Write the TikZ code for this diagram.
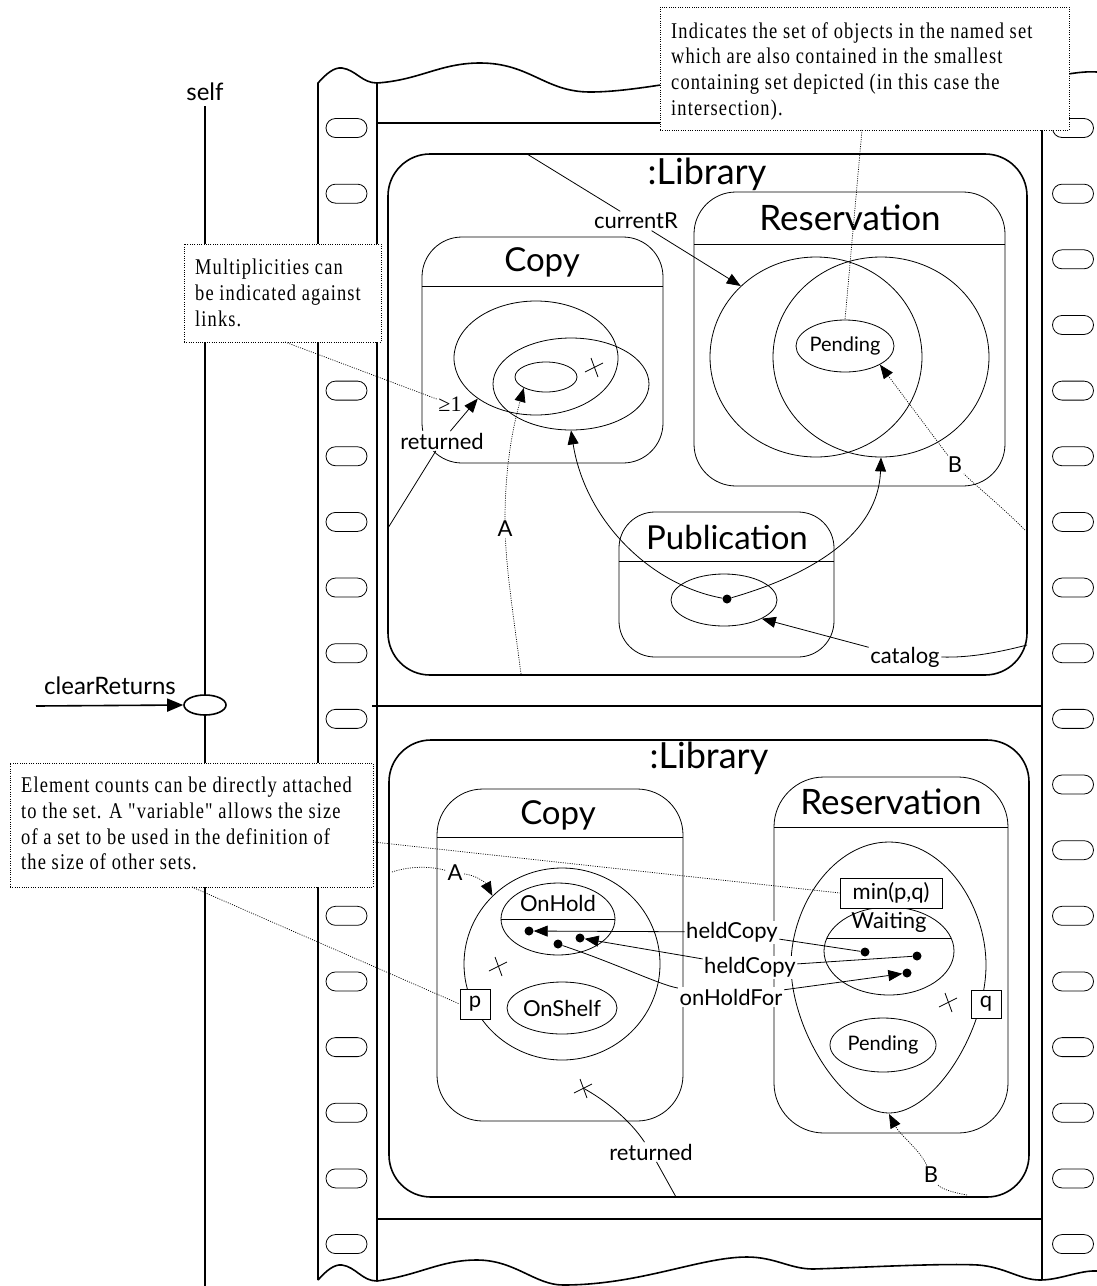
\documentclass[tikz,border=0pt]{standalone}
\usepackage{fontspec}
\usetikzlibrary{shapes.geometric,arrows.meta}
\newfontfamily\lblfont{Lato}
\newfontfamily\notefont[FakeStretch=0.82,LetterSpace=5]{Liberation Serif}
\newfontfamily\serfont{Liberation Serif}
\tikzset{xm/.pic={\draw[line width=0.8pt] (-9,5) -- (9,-4) (-3,-9) -- (4,10);}}
\begin{document}
\begin{tikzpicture}[x=1pt,y=-1pt,
  thk/.style={line width=1.6pt},
  thn/.style={line width=0.8pt},
  lib/.style={draw, line width=1.6pt, rounded corners=42pt, inner sep=0},
  setbox/.style={draw, line width=0.8pt, inner sep=0},
  ell/.style={draw, ellipse, line width=0.8pt, inner sep=0},
  lbl/.style={font=\lblfont\fontsize{22}{22}\selectfont, inner sep=1.5pt, fill=white},
  lbln/.style={font=\lblfont\fontsize{22}{22}\selectfont, inner sep=1pt},
  lblsm/.style={font=\lblfont\fontsize{20}{20}\selectfont, inner sep=1pt},
  ttl/.style={font=\lblfont\fontsize{33}{33}\selectfont, inner sep=0},
  arr/.style={line width=0.8pt, -{Triangle[length=14pt,width=11pt]}},
  dts/.style={line width=0.7pt, dash pattern=on 1pt off 1.3pt},
  darr/.style={dts, -{Triangle[length=14pt,width=11pt]}},
  notebox/.style={draw, dts, fill=white, inner sep=0},
  notetxt/.style={font=\notefont\fontsize{22.5}{25.7}\selectfont, align=left, inner sep=0, anchor=north west},
  dotn/.style={circle, fill, inner sep=0, minimum size=9pt},
  hole/.style={draw, line width=0.8pt, rounded corners=9.5pt, minimum width=41pt, minimum height=19pt, inner sep=0},
  smallbox/.style={draw, line width=0.8pt, fill=white, inner sep=0, font=\lblfont\fontsize{22}{22}\selectfont},
]
\fill[white] (0,0) rectangle (1097,1286);
\useasboundingbox (0,0) rectangle (1097,1286);

% ---------------- film strip ----------------
\draw[thk] (318,1280) -- (318,83) .. controls (326,74) and (334,67) .. (342,68) .. controls (356,70) and (362,83) .. (377,83);
\draw[thk] (318,1280) .. controls (326,1271) and (334,1264) .. (342,1265) .. controls (356,1267) and (362,1281) .. (377,1281);
\draw[thk] (377,83) -- (377,1281);
\draw[thk] (1042,80) -- (1042,1280);
\draw[thk] (377,83) .. controls (420,80) and (440,63) .. (480,63) .. controls (530,63) and (545,92) .. (590,92) .. controls (640,92) and (700,75) .. (760,74) .. controls (850,74) and (950,88) .. (1000,86) .. controls (1030,84) and (1070,70) .. (1097,72);
\draw[thk] (377,1281) .. controls (420,1275) and (440,1260) .. (477,1260) .. controls (515,1260) and (535,1285) .. (563,1285) .. controls (640,1285) and (700,1257) .. (747,1257) .. controls (775,1257) and (790,1269) .. (813,1269) .. controls (850,1268) and (940,1263) .. (978,1265) .. controls (1005,1267) and (1020,1280) .. (1040,1280) .. controls (1060,1280) and (1080,1270) .. (1097,1271);
\draw[thk] (377,123) -- (1042,123);
\draw[thk] (372,706) -- (1042,706);
\draw[thk] (377,1219) -- (1042,1219);
\foreach \k in {0,...,17} {
  \node[hole] (hl\k) at (346.5,128+65.65*\k) {};
  \node[hole] (hr\k) at (1073,128+65.65*\k) {};
}

% ---------------- lifeline ----------------
\node[lbln, font=\lblfont\fontsize{24}{24}\selectfont] (self) at (205,92) {self};
\node[draw, ellipse, thk, minimum width=42pt, minimum height=20pt, inner sep=0] (ev) at (205,705) {};
\coordinate (lt) at (205,106);
\coordinate (lb) at (205,1286);
\draw[thk] (lt) -- (ev.north);
\draw[thk] (ev.south) -- (lb);
\coordinate (evs) at (36,706);
\draw[thk, -{Triangle[length=16pt,width=13pt]}] (evs) -- (ev.west);
\node[lbln, font=\lblfont\fontsize{24}{24}\selectfont] (clr) at (110,686) {clearReturns};

% ---------------- callouts ----------------
\node[notebox, minimum width=409pt, minimum height=123pt] (n1) at (864.5,68.5) {};
\node[notetxt] (n1t) at (671,22) {Indicates the set of objects in the named set\\which are also contained in the smallest\\containing set depicted (in this case the\\intersection).};
\node[notebox, minimum width=197pt, minimum height=98pt] (n2) at (282.5,293) {};
\node[notetxt] (n2t) at (195,259) {Multiplicities can\\be indicated against\\links.};
\node[notebox, minimum width=363pt, minimum height=124pt] (n3) at (191.5,825) {};
\node[notetxt] (n3t) at (21,777) {Element counts can be directly attached\\to the set. A "variable" allows the size\\of a set to be used in the definition of\\the size of other sets.};

% ---------------- top frame ----------------
\node[lib, minimum width=639pt, minimum height=521pt] (lib1) at (707.5,414.5) {};
\node[ttl, font=\lblfont\fontsize{36}{36}\selectfont] (lib1t) at (707,174) {:Library};

\node[setbox, rounded corners=40pt, minimum width=241pt, minimum height=226pt] (cp1) at (542.5,350) {};
\draw[thn] (422,286) -- (663,286);
\node[ttl] (cp1t) at (542,262) {Copy};
\node[ell, minimum width=164pt, minimum height=114pt] (c1a) at (536,358) {};
\node[ell, minimum width=156pt, minimum height=92pt] (c1b) at (571,384) {};
\node[ell, minimum width=62pt, minimum height=30pt] (c1c) at (546,377) {};
\pic at (594,367) {xm};

\node[setbox, rounded corners=42pt, minimum width=311pt, minimum height=294pt] (rs1) at (849.5,339) {};
\draw[thn] (694,244) -- (1005,244);
\node[ttl, font=\lblfont\fontsize{35}{35}\selectfont] (rs1t) at (850,218) {Reservation};
\node[ell, minimum width=212pt, minimum height=200pt] (r1a) at (816,357) {};
\node[ell, minimum width=216pt, minimum height=200pt] (r1b) at (881,357) {};
\node[ell, minimum width=98pt, minimum height=52pt] (pd1) at (845,346) {};
\node[lblsm] (pd1t) at (845,346) {Pending};

\node[setbox, rounded corners=36pt, minimum width=215pt, minimum height=145pt] (pub) at (726.5,584.5) {};
\draw[thn] (619,561) -- (834,561);
\node[ttl] (pubt) at (727,537) {Publication};
\node[ell, minimum width=106pt, minimum height=52pt] (pube) at (724,600) {};
\node[dotn] (pubd) at (727,599) {};

% connectors top
\coordinate (curA) at (527,154);
\node[lbl] (cur) at (636,221) {currentR};
\draw[thn] (curA) -- (cur);
\draw[arr] (cur) -- (r1a.north west);

\node[lbl] (ret1) at (442,441) {returned};
\node[font=\serfont\fontsize{22}{22}\selectfont, inner sep=1pt] (ge1) at (450,404) {≥1};
\draw[arr] (ret1) -- (c1a.south west);
\coordinate (ret1e) at (388,528);
\draw[thn] (ret1) -- (ret1e);

\coordinate (a1s) at (521,674);
\node[lbl] (A1) at (505,529) {A};
\draw[dts] (a1s) .. controls (514,620) and (507,575) .. (A1);
\draw[darr] (A1) .. controls (505,470) and (512,430) .. (c1c.south west);

\draw[arr] (pubd) .. controls (650,585) and (585,520) .. (c1b.south);
\draw[arr] (pubd) .. controls (800,578) and (878,540) .. (r1b.south);

\node[lbl] (cat) at (905,657) {catalog};
\draw[arr] (cat) -- (pube.south east);
\coordinate (catE) at (1027,645);
\draw[thn] (cat.east) .. controls (970,658) and (1000,652) .. (catE);

\coordinate (b1s) at (1025,530);
\node[lbl] (B1) at (955,465) {B};
\draw[dts] (b1s) .. controls (1000,505) and (975,485) .. (B1);
\draw[darr] (B1) -- (pd1.south east);

\coordinate (n1p) at (862,130);
\draw[dts] (n1p) -- (pd1.north);
\coordinate (n2p) at (285,342);
\draw[dts] (n2p) -- (ge1);

% ---------------- bottom frame ----------------
\node[lib, minimum width=640pt, minimum height=457pt] (lib2) at (709,968.5) {};
\node[ttl, font=\lblfont\fontsize{36}{36}\selectfont] (lib2t) at (709,758) {:Library};

\node[setbox, rounded corners=46pt, minimum width=246pt, minimum height=332pt] (cp2) at (560,955) {};
\draw[thn] (437,837) -- (683,837);
\node[ttl] (cp2t) at (558,815) {Copy};
\node[ell, minimum width=196pt, minimum height=192pt] (cc) at (562,964) {};
\node[ell, minimum width=114pt, minimum height=72pt] (oh) at (558,919) {};
\draw[thn] (oh.west) -- (oh.east);
\node[lbln] (oht) at (558,903) {OnHold};
\node[dotn] (d1) at (529,931) {};
\node[dotn] (d2) at (558,944) {};
\node[dotn] (d3) at (580,938) {};
\node[ell, minimum width=110pt, minimum height=52pt] (os) at (562,1008) {};
\node[lbln] (ost) at (562,1008) {OnShelf};
\node[smallbox, minimum width=30pt, minimum height=30pt] (pb) at (475,1004) {p};
\pic at (498,966) {xm};

\node[setbox, rounded corners=50pt, minimum width=234pt, minimum height=356pt] (rs2) at (891,955) {};
\draw[thn] (774,827) -- (1008,827);
\node[ttl, font=\lblfont\fontsize{35}{35}\selectfont] (rs2t) at (891,802) {Reservation};
\draw[thn] (889,842) .. controls (944,842) and (986,905) .. (986,965) .. controls (986,1030) and (935,1113) .. (889,1113) .. controls (843,1113) and (791,1030) .. (791,965) .. controls (791,905) and (834,842) .. (889,842);
\coordinate (eggS) at (889,1114);
\node[ell, minimum width=130pt, minimum height=88pt] (wt) at (889,951) {};
\draw[thn] (827,938) -- (951,938);
\node[lbln] (wtt) at (889,922) {Waiting};
\node[smallbox, minimum width=102pt, minimum height=30pt] (mpq) at (891,893) {min(p,q)};
\node[dotn] (w1) at (865,952) {};
\node[dotn] (w2) at (917,956) {};
\node[dotn] (w3) at (907,973) {};
\node[smallbox, minimum width=30pt, minimum height=28pt] (qb) at (986,1004) {q};
\pic at (948,1002) {xm};
\node[ell, minimum width=106pt, minimum height=54pt] (pd2) at (883,1045) {};
\node[lblsm] (pd2t) at (883,1045) {Pending};

% connectors bottom
\node[lbl] (hc1) at (732,932) {heldCopy};
\node[lbl] (hc2) at (750,967) {heldCopy};
\node[lbl] (ohf) at (731,997) {onHoldFor};
\draw[arr] (hc1) -- (d1);
\draw[thn] (hc1) -- (w1);
\draw[arr] (hc2) -- (d3);
\draw[thn] (hc2) -- (w2);
\draw[thn] (ohf) .. controls (660,985) and (620,965) .. (d2);
\draw[arr] (ohf) -- (w3);

\coordinate (n3a) at (373,842);
\draw[dts] (n3a) -- (mpq.west);
\coordinate (n3b) at (192,887);
\draw[dts] (n3b) -- (pb.west);

\coordinate (a2s) at (392,872);
\node[lbl] (A2) at (455,873) {A};
\draw[dts] (a2s) .. controls (410,866) and (430,866) .. (A2);
\draw[darr] (A2) .. controls (475,875) and (485,882) .. (cc.north west);

\coordinate (x4) at (583,1088);
\pic at (583,1088) {xm};
\node[lbl] (ret2) at (651,1152) {returned};
\draw[thn] (x4) .. controls (605,1100) and (630,1120) .. (ret2);
\coordinate (ret2e) at (676,1197);
\draw[thn] (ret2) -- (ret2e);

\coordinate (b2s) at (967,1195);
\node[lbl] (B2) at (931,1175) {B};
\draw[dts] (b2s) .. controls (950,1192) and (940,1188) .. (B2);
\draw[darr] (B2) .. controls (920,1150) and (900,1135) .. (eggS);
\end{tikzpicture}
\end{document}
